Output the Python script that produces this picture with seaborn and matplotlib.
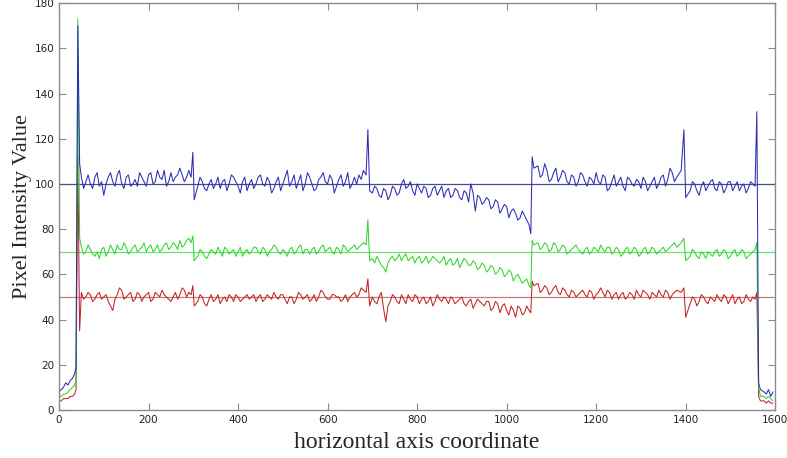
import numpy as np
import pandas as pd
import matplotlib
matplotlib.use("Agg")
import matplotlib.pyplot as plt
import seaborn as sns

# Sampling positions along the scan line (coarse grid plus the edge/spike points)
x_pos = ([0, 5, 10, 15, 20, 25, 30, 35, 38, 42, 46]
         + list(range(50, 300, 10)) + [295, 299, 302]
         + list(range(310, 690, 10)) + [686, 690, 694]
         + list(range(700, 1060, 10)) + [1054, 1057, 1061]
         + list(range(1070, 1390, 10)) + [1390, 1396, 1400]
         + list(range(1410, 1560, 10)) + [1555, 1559, 1563, 1567]
         + [1575, 1580, 1585, 1590, 1595])

# In-between positions inside each flat stretch
x_mid = (list(range(55, 290, 10)) + list(range(315, 680, 10))
         + list(range(705, 1050, 10)) + list(range(1075, 1385, 10))
         + list(range(1415, 1550, 10)))

blue_vals = ([8, 9, 10, 12, 11, 13, 14, 16, 19, 170, 109]
             + [103, 101, 100, 103, 99, 95, 103, 101, 104, 100, 103, 99, 102, 105, 101,
                104, 100, 106, 102, 99, 105, 103, 107, 101, 106]
             + [103, 114, 93]
             + [99, 101, 97, 102, 100, 98, 102, 100, 103, 99, 101, 97, 102, 100, 104, 99,
                101, 98, 103, 100, 106, 101, 98, 104, 100, 103, 97, 102, 105, 100, 102, 99,
                104, 101, 98, 103, 104, 106]
             + [104, 124, 97]
             + [96, 98, 94, 97, 95, 98, 96, 102, 99, 97, 100, 96, 98, 95, 99, 97, 94, 98,
                95, 97, 93, 96, 100, 88, 94, 92, 93, 90, 92, 89, 90, 88, 87, 85, 86, 82]
             + [78, 112, 107]
             + [108, 104, 106, 102, 107, 103, 105, 100, 103, 101, 104, 99, 102, 105, 100, 103,
                98, 104, 101, 99, 103, 100, 102, 98, 101, 99, 103, 100, 104, 102, 105, 103]
             + [106, 124, 94]
             + [97, 100, 95, 101, 99, 102, 97, 100, 98, 101, 99, 97, 100, 98, 100]
             + [99, 132, 12, 9]
             + [8, 7, 9, 6, 8])

blue_mid = ([98, 104, 98, 105, 101, 100, 105, 99, 106, 98, 104, 100, 99, 103, 99, 105,
             101, 103, 106, 101, 101, 104, 104, 103]
            + [103, 98, 100, 98, 103, 101, 97, 104, 101, 96, 103, 100, 98, 103, 100, 103,
               96, 101, 97, 103, 99, 104, 101, 97, 105, 100, 98, 103, 101, 104, 96, 102,
               99, 105, 100, 100, 102]
            + [99, 95, 98, 93, 99, 95, 100, 98, 101, 95, 98, 99, 94, 98, 95, 99, 97, 94,
               98, 94, 97, 92, 96, 95, 91, 94, 89, 93, 87, 91, 85, 89, 84, 88, 84]
            + [103, 109, 101, 105, 101, 106, 101, 104, 99, 105, 101, 103, 100, 101, 104, 97,
               101, 99, 103, 97, 102, 99, 101, 103, 97, 101, 98, 103, 99, 107, 101]
            + [101, 97, 99, 97, 101, 98, 101, 96, 101, 97, 101, 99, 96, 101])

green_vals = ([6, 6, 7, 7, 8, 9, 10, 11, 13, 173, 76]
              + [72, 70, 71, 68, 67, 72, 70, 71, 73, 71, 72, 70, 73, 71, 74, 72, 70, 73, 71,
                 74, 72, 73, 75, 73, 76]
              + [74, 77, 66]
              + [68, 70, 67, 71, 69, 70, 72, 69, 71, 70, 68, 71, 70, 72, 69, 71, 70, 73, 70,
                 71, 68, 72, 70, 73, 71, 69, 72, 70, 73, 71, 70, 72, 69, 72, 71, 73, 72, 74]
              + [73, 84, 66]
              + [67, 68, 64, 61, 67, 66, 69, 68, 66, 68, 67, 65, 68, 66, 67, 65, 68, 66, 64,
                 67, 65, 66, 64, 65, 63, 64, 62, 63, 61, 62, 60, 61, 59, 58, 57, 55]
              + [54, 75, 73]
              + [74, 72, 73, 71, 73, 71, 72, 70, 72, 71, 69, 72, 70, 71, 73, 70, 72, 70, 71,
                 69, 72, 70, 71, 69, 72, 70, 71, 70, 72, 71, 73, 72]
              + [74, 76, 66]
              + [68, 70, 67, 69, 70, 68, 71, 69, 70, 68, 71, 69, 70, 68, 70]
              + [71, 74, 10, 6]
              + [6, 5, 6, 5, 4])

green_mid = ([69, 73, 69, 70, 71, 68, 73, 69, 71, 74, 69, 72, 70, 72, 70, 73, 71, 70, 73,
              71, 74, 71, 72, 75]
             + [71, 68, 69, 70, 72, 68, 71, 70, 68, 72, 70, 69, 72, 70, 72, 68, 71, 72, 69,
                70, 71, 69, 72, 69, 71, 71, 69, 72, 70, 72, 69, 71, 73, 70, 72, 71, 73]
             + [65, 66, 63, 65, 68, 67, 66, 69, 67, 65, 68, 66, 65, 68, 66, 66, 64, 67, 65,
                63, 67, 64, 66, 62, 65, 61, 64, 60, 63, 59, 62, 57, 60, 56, 58]
             + [71, 74, 70, 74, 70, 73, 69, 71, 73, 70, 71, 69, 72, 70, 71, 72, 69, 72, 68,
                71, 69, 72, 68, 71, 69, 72, 69, 71, 70, 72, 74]
             + [71, 68, 70, 67, 69, 70, 68, 71, 67, 70, 68, 71, 67, 69])

red_vals = ([4, 4, 5, 5, 5, 6, 6, 7, 9, 112, 35]
            + [52, 50, 51, 49, 52, 50, 48, 44, 51, 53, 50, 52, 49, 51, 50, 52, 49, 51, 53,
               50, 48, 52, 51, 53, 52]
            + [51, 55, 46]
            + [48, 50, 46, 51, 49, 47, 50, 51, 48, 50, 49, 51, 50, 48, 51, 49, 50, 52, 49,
               51, 47, 50, 49, 51, 50, 48, 51, 50, 52, 49, 51, 50, 48, 51, 50, 52, 51, 53]
            + [52, 58, 46]
            + [50, 47, 52, 39, 48, 50, 47, 49, 51, 48, 50, 49, 47, 50, 48, 49, 50, 47, 49,
               48, 50, 46, 49, 47, 48, 46, 48, 45, 47, 46, 44, 46, 41, 45, 43, 44]
            + [43, 57, 55]
            + [56, 53, 54, 52, 55, 51, 53, 50, 52, 51, 53, 50, 52, 51, 54, 50, 52, 51, 49,
               52, 50, 51, 53, 50, 52, 49, 51, 53, 50, 52, 51, 53]
            + [52, 54, 41]
            + [47, 49, 48, 50, 47, 49, 51, 48, 50, 49, 47, 50, 48, 49, 50]
            + [49, 52, 6, 4]
            + [4, 3, 4, 3, 3])

red_mid = ([49, 52, 48, 51, 49, 51, 46, 49, 54, 49, 51, 48, 52, 48, 51, 48, 52, 50, 51,
            49, 50, 49, 54, 50]
           + [51, 47, 49, 48, 51, 49, 48, 50, 51, 48, 50, 49, 51, 50, 48, 51, 49, 50, 51,
              49, 50, 47, 52, 49, 51, 49, 48, 53, 50, 49, 51, 50, 49, 48, 51, 50, 54]
           + [48, 50, 45, 46, 51, 48, 51, 47, 49, 51, 47, 50, 48, 46, 51, 48, 49, 50, 47,
              49, 47, 48, 45, 49, 47, 48, 44, 48, 43, 47, 42, 44, 46, 42, 46]
           + [52, 55, 51, 54, 52, 54, 51, 53, 50, 52, 51, 53, 49, 52, 52, 53, 49, 52, 51,
              49, 52, 49, 51, 53, 51, 52, 50, 51, 53, 49, 52]
           + [50, 46, 51, 48, 50, 48, 49, 51, 47, 51, 49, 47, 51, 48])

channels = ["blue", "green", "red"]
ref_levels = [100, 70, 50]
line_colors = {"blue": "#2d2db4", "green": "#2fd62f", "red": "#c42424"}
ref_colors = {"blue": "#4b4b8c", "green": "#6fe06f", "red": "#c77a7a"}

x_ticks = [0, 200, 400, 600, 800, 1000, 1200, 1400, 1600]
y_ticks = [0, 20, 40, 60, 80, 100, 120, 140, 160, 180]

series = {
    "blue": (blue_vals, blue_mid),
    "green": (green_vals, green_mid),
    "red": (red_vals, red_mid),
}
frames = []
for ch, (main, mid) in series.items():
    frames.append(pd.DataFrame({"x": x_pos + x_mid, "value": main + mid, "channel": ch}))
df = pd.concat(frames, ignore_index=True)

sns.set_style("white")
plt.rcParams["font.family"] = ["DejaVu Sans"]

fig = plt.figure(figsize=(7.87, 4.58), dpi=100)
ax = fig.add_axes([0.075, 0.105, 0.910, 0.888])

for ch, lvl in zip(channels, ref_levels):
    ax.axhline(lvl, color=ref_colors[ch], lw=0.9, zorder=1)

sns.lineplot(data=df, x="x", y="value", hue="channel", hue_order=["red", "green", "blue"],
             palette=line_colors, estimator=None, sort=True, lw=0.75,
             legend=False, ax=ax, zorder=2)

ax.set_xlim(0, 1600)
ax.set_ylim(0, 180)
ax.set_xticks(x_ticks)
ax.set_yticks(y_ticks)
ax.tick_params(direction="in", length=5, width=0.8, color="#8a8a8a",
               labelsize=7.5, labelcolor="#222222", top=True, right=True,
               bottom=True, left=True, labeltop=False, labelright=False)
for sp in ax.spines.values():
    sp.set_visible(True)
    sp.set_color("#8a8a8a")
    sp.set_linewidth(1.0)

ax.set_xlabel("horizontal axis coordinate", family="Liberation Serif", fontsize=17,
              labelpad=5)
ax.set_ylabel("Pixel Intensity Value", family="Liberation Serif", fontsize=16,
              labelpad=2)

fig.savefig("out.png", dpi=100)
